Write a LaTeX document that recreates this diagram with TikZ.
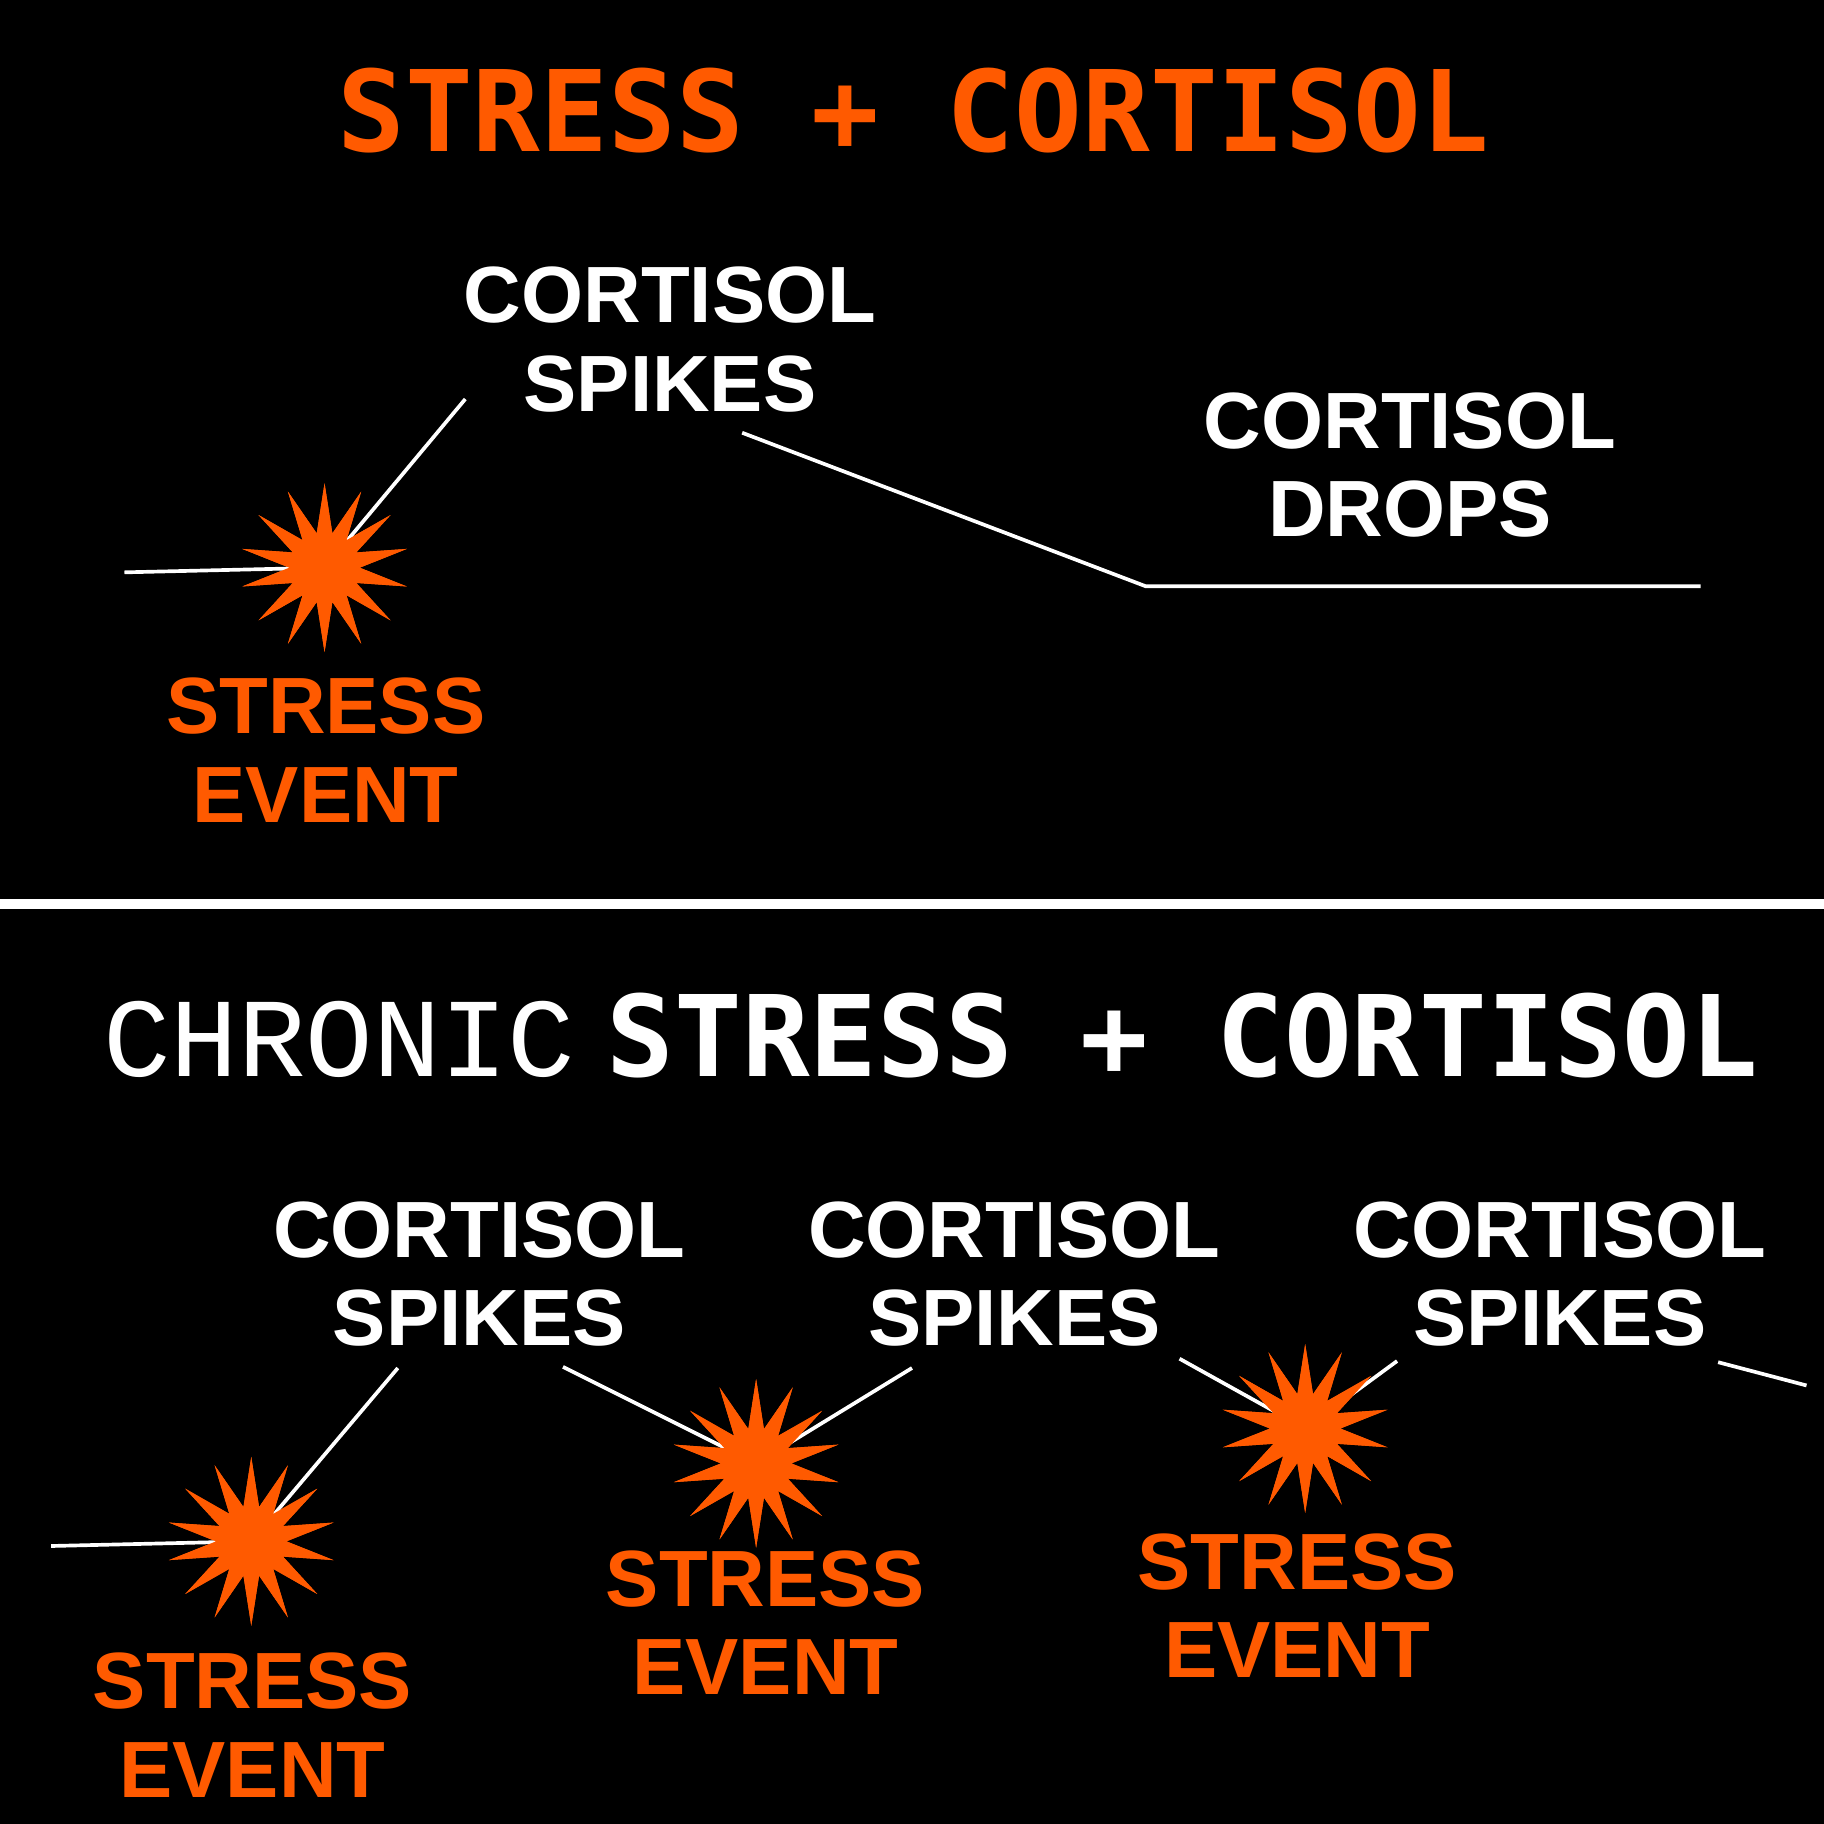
\documentclass[tikz,border=0pt]{standalone}
\usepackage{fontspec}
\setmainfont{Liberation Sans}
\newfontfamily\monob{DejaVu Sans Mono}[BoldFont={DejaVu Sans Mono Bold}]
\newfontfamily\monol{Liberation Mono}
\usetikzlibrary{shapes.geometric}
\definecolor{org}{HTML}{FF5A00}
\begin{document}
\begin{tikzpicture}[x=0.01cm,y=-0.01cm,
  lbl/.style={align=center,font=\fontsize{19.5}{21.6}\selectfont\bfseries,inner sep=0},
  wl/.style={lbl,text=white},
  ol/.style={lbl,text=org},
  burst/.style={star,star points=14,star point ratio=2.4,minimum size=140\pgflinewidth*0+1.45cm,fill=org,inner sep=0},
  ln/.style={white,line width=0.9pt}]
\fill[black] (0,0) rectangle (1568,1568);
\useasboundingbox (0,0) rectangle (1568,1568);
\node[text=org,font=\fontsize{27.5}{30}\selectfont\monob\bfseries,inner sep=0] (t1) at (785,95) {STRESS + CORTISOL};
\node[text=white,font=\fontsize{27.5}{30}\selectfont,inner sep=0] (t2) at (800,890) {{\monol CHRONIC} {\monob\bfseries STRESS + CORTISOL}};
\draw[white,line width=2.3pt] (0,777) coordinate (d1) -- (1568,777) coordinate (d2);
% top
\coordinate (a0) at (107,492);
\coordinate (a1) at (400,343);
\coordinate (a2) at (638,372);
\coordinate (a3) at (985,504);
\coordinate (a4) at (1462,504);
\node[burst] (s0) at (279,488) {};
\draw[ln] (a0) -- (s0.center);
\draw[ln] (s0.center) -- (a1);
\draw[ln] (a2) -- (a3) -- (a4);
\node[burst] (s0) at (279,488) {};
\node[wl] (c0) at (576,292) {CORTISOL\\SPIKES};
\node[wl] (c1) at (1212,400) {CORTISOL\\DROPS};
\node[ol] (e0) at (280,645) {STRESS\\EVENT};
% bottom
\coordinate (b0) at (44,1329);
\coordinate (b1) at (342,1176);
\coordinate (b2) at (484,1175);
\coordinate (b3) at (784,1176);
\coordinate (b4) at (1014,1168);
\coordinate (b5) at (1201,1170);
\coordinate (b6) at (1477,1171);
\coordinate (b7) at (1553,1191);
\node[burst] (s1) at (216,1325) {};
\node[burst] (s2) at (650,1258) {};
\node[burst] (s3) at (1122,1228) {};
\draw[ln] (b0) -- (s1.center) -- (b1);
\draw[ln] (b2) -- (s2.center) -- (b3);
\draw[ln] (b4) -- (s3.center) -- (b5);
\draw[ln] (b6) -- (b7);
\node[burst] at (s1) {};
\node[burst] at (s2) {};
\node[burst] at (s3) {};
\node[wl] (c2) at (412,1095) {CORTISOL\\SPIKES};
\node[wl] (c3) at (872,1095) {CORTISOL\\SPIKES};
\node[wl] (c4) at (1341,1095) {CORTISOL\\SPIKES};
\node[ol] (e1) at (217,1483) {STRESS\\EVENT};
\node[ol] (e2) at (658,1395) {STRESS\\EVENT};
\node[ol] (e3) at (1115,1380) {STRESS\\EVENT};
\end{tikzpicture}
\end{document}
